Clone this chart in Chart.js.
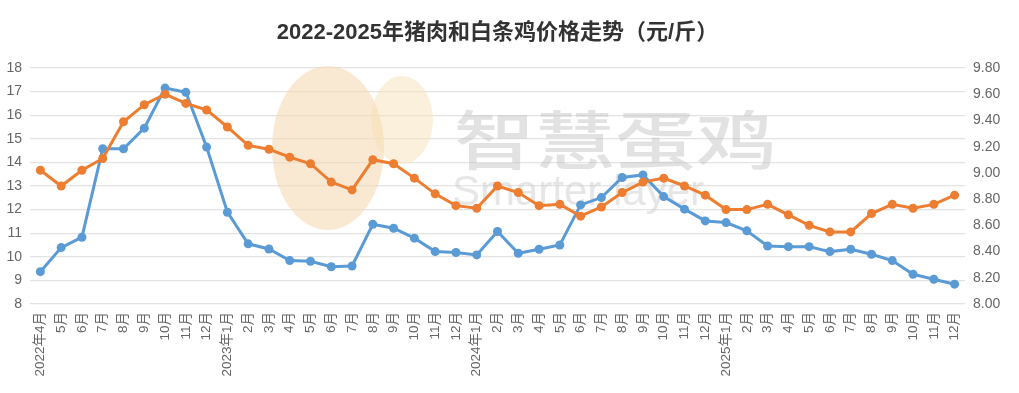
<!DOCTYPE html>
<html>
<head>
<meta charset="utf-8">
<script src="https://cdn.jsdelivr.net/npm/chart.js@4.4.1/dist/chart.umd.min.js"></script>
<style>
html,body{margin:0;padding:0;background:#fff;}
#wrap{width:1019px;height:393px;position:relative;}
</style>
</head>
<body>
<div id="wrap"><canvas id="c"></canvas></div>
<script>
const titleText = '2022-2025年猪肉和白条鸡价格走势（元/斤）';
const months = ['2022年4月','5月','6月','7月','8月','9月','10月','11月','12月',
  '2023年1月','2月','3月','4月','5月','6月','7月','8月','9月','10月','11月','12月',
  '2024年1月','2月','3月','4月','5月','6月','7月','8月','9月','10月','11月','12月',
  '2025年1月','2月','3月','4月','5月','6月','7月','8月','9月','10月','11月','12月'];
const porkPrice = [9.37,10.39,10.83,14.58,14.58,15.45,17.15,16.97,14.65,11.89,10.55,
  10.33,9.84,9.81,9.58,9.61,11.38,11.21,10.79,10.22,10.18,10.08,
  11.07,10.15,10.32,10.50,12.20,12.51,13.36,13.47,12.55,12.02,11.52,
  11.45,11.10,10.46,10.43,10.43,10.22,10.32,10.11,9.84,9.26,9.05,8.84];
const chickenPrice = [9.02,8.90,9.02,9.11,9.39,9.52,9.60,9.53,9.48,9.35,9.21,
  9.18,9.12,9.07,8.93,8.87,9.10,9.07,8.96,8.84,8.75,8.73,
  8.90,8.85,8.75,8.76,8.67,8.74,8.85,8.93,8.96,8.90,8.83,
  8.72,8.72,8.76,8.68,8.60,8.55,8.55,8.69,8.76,8.73,8.76,8.83];
const leftTicks = {min: 8, max: 18, step: 1};
const rightTicks = {min: 8, max: 9.8, step: 0.2};

const FONT = '"Liberation Sans", "Noto Sans CJK SC", sans-serif';

const titlePlugin = {
  id: 'centerTitle',
  afterDraw(chart) {
    const ctx = chart.ctx, a = chart.chartArea;
    ctx.save();
    ctx.font = 'bold 22px ' + FONT;
    ctx.fillStyle = '#333';
    ctx.textAlign = 'center';
    ctx.textBaseline = 'middle';
    ctx.fillText(titleText, (a.left + a.right) / 2, 33);
    ctx.restore();
  }
};

const watermarkPlugin = {
  id: 'watermark',
  beforeDatasetsDraw(chart) {
    const ctx = chart.ctx;
    ctx.save();
    ctx.fillStyle = 'rgba(248,228,190,0.55)';
    ctx.beginPath();
    ctx.ellipse(402, 120, 31, 44, 0, 0, Math.PI * 2);
    ctx.fill();
    ctx.fillStyle = 'rgba(246,218,180,0.6)';
    ctx.beginPath();
    ctx.ellipse(328, 148, 56, 82, 0, 0, Math.PI * 2);
    ctx.fill();
    ctx.fillStyle = 'rgba(190,190,190,0.45)';
    ctx.font = '500 64px "Noto Sans CJK SC", sans-serif';
    ctx.textBaseline = 'middle';
    ctx.save();
    ctx.translate(454, 140);
    ctx.scale(1.26, 1);
    ctx.fillText('智慧蛋鸡', 0, 0);
    ctx.restore();
    ctx.fillStyle = 'rgba(200,200,200,0.45)';
    ctx.font = '300 42px ' + FONT;
    ctx.fillText('Smarter layer', 452, 193);
    ctx.restore();
  }
};

new Chart(document.getElementById('c'), {
  type: 'line',
  data: {
    labels: months,
    datasets: [
      {
        label: '白条鸡',
        data: chickenPrice,
        yAxisID: 'y1',
        borderColor: '#ED7D31',
        backgroundColor: '#ED7D31',
        borderWidth: 3,
        pointRadius: 4.5,
        pointBorderWidth: 0,
        tension: 0
      },
      {
        label: '猪肉',
        data: porkPrice,
        yAxisID: 'y',
        borderColor: '#5B9BD5',
        backgroundColor: '#5B9BD5',
        borderWidth: 3,
        pointRadius: 4.5,
        pointBorderWidth: 0,
        tension: 0
      }
    ]
  },
  options: {
    responsive: true,
    maintainAspectRatio: false,
    animation: false,
    layout: {padding: {top: 68, left: 0, right: 0, bottom: 0}},
    plugins: {
      legend: {display: false},
      title: {display: false},
      tooltip: {enabled: false}
    },
    scales: {
      x: {
        offset: true,
        grid: {display: false, drawTicks: false},
        border: {display: false},
        ticks: {
          autoSkip: false,
          maxRotation: 90,
          minRotation: 90,
          padding: 8,
          color: '#666',
          font: {family: FONT, size: 13.5}
        },
        afterFit(s) { s.height = 89; }
      },
      y: {
        position: 'left',
        min: leftTicks.min,
        max: leftTicks.max,
        grid: {color: '#e3e3e3', lineWidth: 1.2, drawTicks: false},
        border: {display: false},
        ticks: {
          stepSize: leftTicks.step,
          padding: 8,
          color: '#666',
          font: {family: FONT, size: 14}
        },
        afterFit(s) { s.width = 30; }
      },
      y1: {
        position: 'right',
        min: rightTicks.min,
        max: rightTicks.max,
        grid: {display: false, drawTicks: false},
        border: {display: false},
        ticks: {
          stepSize: rightTicks.step,
          padding: 8,
          color: '#666',
          font: {family: FONT, size: 14},
          callback: v => Number(v).toFixed(2)
        },
        afterFit(s) { s.width = 54; }
      }
    }
  },
  plugins: [watermarkPlugin, titlePlugin]
});
</script>
</body>
</html>
